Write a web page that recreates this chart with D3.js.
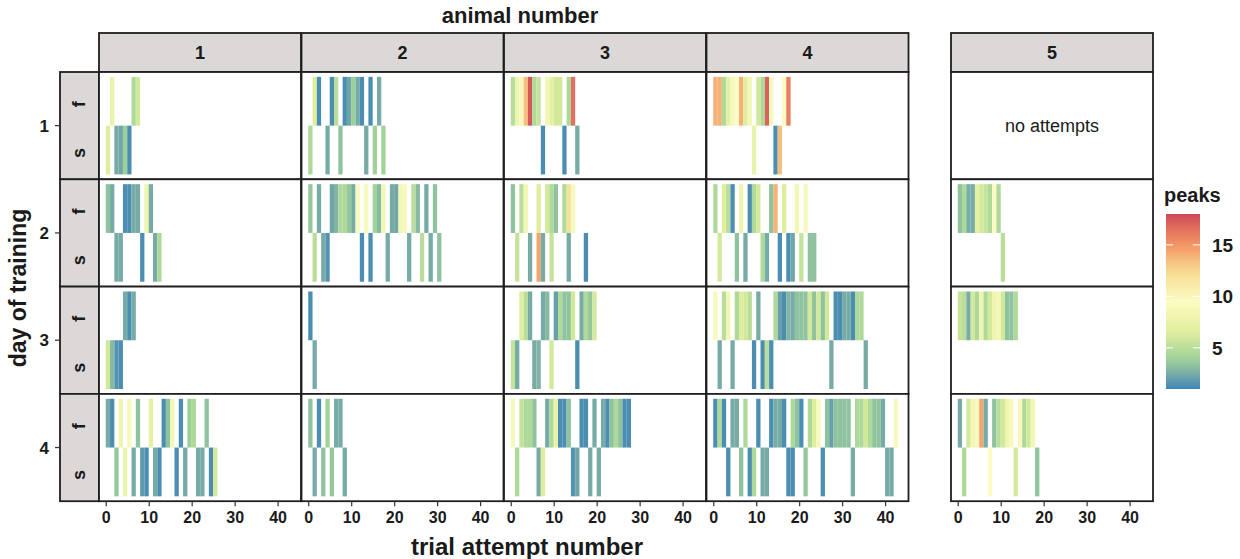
<!DOCTYPE html>
<html>
<head>
<meta charset="utf-8">
<script src="https://cdn.jsdelivr.net/npm/d3@7"></script>
<style>
  body { margin: 0; background: #fff; }
  text { font-family: "Liberation Sans", Arial, sans-serif; }
</style>
</head>
<body>
<svg id="chart" width="1240" height="559"></svg>
<script>
// ---- data ----
const animals = [1, 2, 3, 4, 5];
const days = [1, 2, 3, 4];
const outcomes = ["f", "s"];
const xTicks = [0, 10, 20, 30, 40];
const peakTicks = [5, 10, 15];
const peakRange = [1, 18];
const spectral = ["#3288bd", "#99d594", "#e6f598", "#ffffbf", "#fee08b", "#fc8d59", "#d53e4f"];

// per animal, one entry per day: [trial number, peaks] for failed (f) and successful (s) attempts
const animal1 = [
  { f: [[2, 7.5], [7, 4.5], [8, 6]],
    s: [[1, 6.5], [3, 2.5], [4, 2.3], [5, 3.8], [6, 1.3]] },
  { f: [[1, 3.3], [2, 2.5], [5, 1.3], [6, 1.3], [7, 2.5], [8, 2.5], [10, 8], [11, 2.5]],
    s: [[3, 2.5], [4, 2.5], [9, 1.3], [12, 2.5], [13, 4.5]] },
  { f: [[5, 2.5], [6, 1.3], [7, 2.5]],
    s: [[1, 6], [2, 3], [3, 1.5], [4, 1.3]] },
  { f: [[1, 2.5], [2, 1.3], [4, 8], [6, 9], [8, 3.3], [11, 7], [14, 1.3], [15, 3.3], [16, 8.5], [18, 1.3], [20, 3.8], [21, 4.5], [24, 3.3]],
    s: [[3, 3.5], [5, 7.5], [7, 2.5], [9, 1.8], [10, 1.3], [12, 2.5], [13, 1.3], [17, 1.3], [19, 2.5], [22, 2.5], [23, 2.5], [25, 1.3], [26, 6]] }
];
const animal2 = [
  { f: [[2, 6.5], [3, 1.3], [6, 1.3], [7, 5], [9, 1.3], [10, 2.2], [11, 3.8], [12, 2.5], [13, 1.3], [15, 1.3], [17, 2.5]],
    s: [[1, 4.5], [5, 2.5], [8, 3.3], [14, 2.5], [16, 4], [18, 4]] },
  { f: [[1, 3.5], [3, 2.5], [6, 2.3], [7, 2.8], [8, 4.5], [9, 4.5], [10, 3.5], [11, 2.5], [12, 9], [14, 9], [16, 4], [17, 3], [18, 8.5], [20, 2.5], [21, 2.3], [22, 8.5], [23, 9], [25, 5], [26, 3], [28, 2.5], [30, 3.3]],
    s: [[2, 5], [4, 2.5], [5, 1.5], [13, 1.3], [15, 1.3], [19, 2.5], [24, 2.5], [27, 5], [29, 2.5], [31, 3.3]] },
  { f: [[1, 1.3]],
    s: [[2, 2.5]] },
  { f: [[1, 3.3], [3, 1.3], [5, 4], [7, 2.5], [8, 2.5]],
    s: [[2, 2.5], [4, 3.3], [6, 3.5], [9, 2.5]] }
];
const animal3 = [
  { f: [[1, 5], [2, 8], [3, 9], [4, 13.5], [5, 17.5], [6, 4.5], [7, 5.5], [9, 8.5], [10, 7], [11, 6], [12, 6], [14, 4.5], [15, 16.5]],
    s: [[8, 1.3], [13, 1.3], [16, 2.5]] },
  { f: [[1, 3.3], [3, 5], [4, 8.5], [7, 6.5], [9, 6], [10, 4.5], [11, 3.3], [13, 4.5], [14, 12], [15, 9]],
    s: [[2, 5.5], [5, 2.5], [7, 14.5], [8, 2.5], [10, 5.5], [14, 2.5], [18, 1.3]] },
  { f: [[3, 6.5], [4, 5], [5, 2.5], [8, 2.5], [9, 3], [11, 2], [12, 4.5], [13, 3.3], [14, 3.3], [15, 6], [17, 2.5], [18, 4.5], [19, 3.5], [20, 6]],
    s: [[1, 5.5], [2, 2.5], [6, 2.5], [7, 2.8], [10, 6], [16, 1.3]] },
  { f: [[1, 9], [3, 5.5], [4, 4.5], [5, 4.5], [6, 3.3], [9, 2.5], [10, 4.5], [11, 7.5], [12, 1.3], [13, 1.3], [14, 3.3], [17, 1.3], [18, 1.3], [20, 2.5], [22, 2.5], [23, 1.3], [24, 3.3], [25, 4.5], [26, 3.3], [27, 1.3], [28, 1.3]],
    s: [[2, 4.5], [7, 2.5], [8, 6.5], [15, 1.5], [16, 2.3], [19, 2.5], [21, 2.5]] }
];
const animal4 = [
  { f: [[1, 14], [2, 14], [3, 4.5], [4, 7], [5, 9], [6, 9.5], [7, 14], [8, 6.5], [9, 8.5], [11, 6], [12, 4.5], [13, 17], [14, 9], [17, 9.5], [18, 16]],
    s: [[10, 7.5], [15, 1.3], [16, 13.5]] },
  { f: [[1, 4.5], [3, 6.5], [4, 5], [5, 1.3], [7, 8], [9, 1.3], [10, 4.5], [11, 6], [14, 3.3], [15, 14], [17, 6.5], [20, 8.5], [22, 9]],
    s: [[2, 6], [6, 3.3], [8, 2.5], [12, 4.5], [13, 2.5], [16, 1.3], [18, 1.3], [19, 2.3], [21, 5.5], [23, 3.3], [24, 3.3]] },
  { f: [[1, 9], [3, 5], [4, 8.5], [6, 4.5], [7, 6.5], [8, 6], [9, 5], [11, 2.5], [15, 4.5], [16, 2], [17, 1.3], [18, 2.8], [19, 2.5], [20, 3.3], [21, 3.3], [22, 3.3], [23, 6], [24, 3.3], [25, 6], [26, 3.3], [27, 6], [29, 1.3], [30, 1.3], [31, 2.5], [32, 2.5], [33, 1.3], [34, 4.5], [35, 4.5]],
    s: [[2, 2.5], [5, 2.5], [10, 1.3], [12, 1.3], [13, 5], [14, 1.3], [28, 2.5], [36, 2.5]] },
  { f: [[1, 1.3], [2, 4.5], [3, 1.3], [5, 2.5], [6, 2.5], [8, 4.5], [11, 1.3], [14, 1.3], [15, 2.5], [16, 2.5], [17, 1.3], [19, 4.5], [20, 3.3], [21, 1.3], [23, 4.5], [24, 6.5], [25, 9], [27, 3.3], [28, 2], [29, 3.3], [30, 3.3], [31, 3.3], [32, 3.3], [34, 4.5], [35, 4.5], [36, 6], [37, 4.5], [38, 3.3], [39, 3.3], [40, 2.5], [43, 9]],
    s: [[4, 1.3], [7, 3.3], [9, 1.3], [10, 4.5], [12, 2.5], [13, 2.5], [18, 1.3], [19, 1.3], [22, 3.5], [26, 1.3], [33, 2.5], [41, 2.5], [42, 2.5]] }
];
const animal5 = [
  null,
  { f: [[1, 3.3], [2, 4.5], [3, 2.5], [4, 2.5], [5, 7], [6, 6], [7, 5.5], [8, 4.5], [9, 9.5], [10, 4.5]],
    s: [[11, 5]] },
  { f: [[1, 5.5], [2, 5], [3, 2.5], [4, 6], [5, 4.5], [6, 8], [7, 4.5], [8, 6], [9, 8], [10, 8.5], [11, 6], [12, 3.3], [13, 3.3], [14, 4.5]],
    s: [] },
  { f: [[1, 2.5], [3, 6], [4, 8.5], [5, 9], [6, 14.5], [7, 2.5], [9, 3.3], [10, 5], [11, 6], [12, 8], [13, 9], [15, 9], [16, 4.5], [17, 6], [18, 8.5]],
    s: [[2, 4.5], [8, 9.5], [14, 6], [19, 3.3]] }
];
const animalData = [animal1, animal2, animal3, animal4, animal5];

// ---- layout ----
const svg = d3.select("#chart");
const colX = [99, 301.5, 504, 706.5, 951];
const panelW = 202;
const rowY = [72, 179.3, 286.6, 393.9];
const rowH = 107.3;
const stripTop = 33;
const stripLeft = 60;
const frame = "#1e1e1e";
const stripFill = "#dcd8d8";
const ink = "#1a1a1a";

const x = d3.scaleLinear().domain([-1.57, 45.45]).range([0, panelW]);
const y = d3.scaleLinear().domain([0.4, 2.6]).range([0, rowH]);
const spectralScale = d3.scaleLinear()
  .domain(d3.range(spectral.length).map(i => peakRange[0] + i * (peakRange[1] - peakRange[0]) / (spectral.length - 1)))
  .range(spectral)
  .interpolate(d3.interpolateLab)
  .clamp(true);
// printed figure is a little washed out
function color(v) {
  const c = d3.hsl(spectralScale(v));
  c.s *= 0.88;
  return c.formatHex();
}

// column strips
animals.forEach((a, ci) => {
  const g = svg.append("g").attr("transform", `translate(${colX[ci]},${stripTop})`);
  g.append("rect").attr("width", panelW).attr("height", rowY[0] - stripTop)
    .attr("fill", stripFill).attr("stroke", frame).attr("stroke-width", 1.8);
  g.append("text").attr("x", panelW / 2).attr("y", 26)
    .attr("text-anchor", "middle").attr("font-size", 18).attr("font-weight", "bold")
    .attr("fill", ink).text(a);
});

// row strips and day axis
days.forEach((d, ri) => {
  const g = svg.append("g").attr("transform", `translate(${stripLeft},${rowY[ri]})`);
  g.append("rect").attr("width", colX[0] - stripLeft).attr("height", rowH)
    .attr("fill", stripFill).attr("stroke", frame).attr("stroke-width", 1.8);
  outcomes.forEach((o, oi) => {
    const cy = y(oi + 1) + 3;
    g.append("text")
      .attr("transform", `translate(${(colX[0] - stripLeft) / 2 + 5},${cy}) rotate(-90)`)
      .attr("text-anchor", "middle").attr("font-size", 18).attr("font-weight", "bold")
      .attr("fill", ink).text(o);
  });
  g.append("line").attr("x1", -5).attr("x2", 0).attr("y1", rowH / 2).attr("y2", rowH / 2)
    .attr("stroke", "#333").attr("stroke-width", 1.2);
  g.append("text").attr("x", -11).attr("y", rowH / 2 + 6)
    .attr("text-anchor", "end").attr("font-size", 17).attr("font-weight", "bold")
    .attr("fill", ink).text(d);
});

// panels
animals.forEach((a, ci) => {
  days.forEach((d, ri) => {
    const g = svg.append("g").attr("transform", `translate(${colX[ci]},${rowY[ri]})`);
    g.append("rect").attr("width", panelW).attr("height", rowH).attr("fill", "#fff");
    const entry = animalData[ci][ri];
    if (entry) {
      outcomes.forEach((o, oi) => {
        g.selectAll(`rect.bar-${o}`)
          .data(entry[o])
          .enter()
          .append("rect")
          .attr("class", `bar-${o}`)
          .attr("x", t => x(t[0] - 1))
          .attr("width", t => x(t[0]) - x(t[0] - 1))
          .attr("y", y(oi + 0.5))
          .attr("height", y(oi + 1.5) - y(oi + 0.5))
          .attr("fill", t => color(t[1]));
      });
    } else {
      g.append("text").attr("x", panelW / 2).attr("y", rowH / 2 + 6)
        .attr("text-anchor", "middle").attr("font-size", 18)
        .attr("font-family", "'Open Sans', sans-serif")
        .attr("fill", ink).text("no attempts");
    }
    g.append("rect").attr("width", panelW).attr("height", rowH)
      .attr("fill", "none").attr("stroke", frame).attr("stroke-width", 1.8);
  });
});

// x axes
animals.forEach((a, ci) => {
  const g = svg.append("g").attr("transform", `translate(${colX[ci]},${rowY[3] + rowH})`);
  const axis = d3.axisBottom(x).tickValues(xTicks).tickSize(5).tickPadding(5);
  g.call(axis);
  g.select(".domain").remove();
  g.selectAll(".tick line").attr("stroke", "#333").attr("stroke-width", 1.2);
  g.selectAll(".tick text").attr("font-size", 16).attr("font-weight", "bold")
    .attr("fill", ink).attr("font-family", "Liberation Sans, Arial, sans-serif");
});

// titles
svg.append("text").attr("x", 520).attr("y", 23).attr("text-anchor", "middle")
  .attr("font-size", 22).attr("font-weight", "bold").attr("fill", ink).text("animal number");
svg.append("text").attr("x", 527).attr("y", 555).attr("text-anchor", "middle")
  .attr("font-size", 24).attr("font-weight", "bold").attr("fill", ink).text("trial attempt number");
svg.append("text").attr("transform", "translate(26,288) rotate(-90)").attr("text-anchor", "middle")
  .attr("font-size", 23).attr("font-weight", "bold").attr("fill", ink).text("day of training");

// legend
const legTop = 214, legBottom = 389, legX = 1166, legW = 34;
const legScale = d3.scaleLinear().domain(peakRange).range([legBottom, legTop]);
const defs = svg.append("defs");
const grad = defs.append("linearGradient").attr("id", "peaksGrad")
  .attr("x1", 0).attr("y1", 1).attr("x2", 0).attr("y2", 0);
d3.range(0, 1.0001, 0.05).forEach(t => {
  grad.append("stop").attr("offset", t)
    .attr("stop-color", color(peakRange[0] + t * (peakRange[1] - peakRange[0])));
});
svg.append("rect").attr("x", legX).attr("y", legTop).attr("width", legW)
  .attr("height", legBottom - legTop).attr("fill", "url(#peaksGrad)");
peakTicks.forEach(v => {
  const ty = legScale(v);
  svg.append("line").attr("x1", legX).attr("x2", legX + 7).attr("y1", ty).attr("y2", ty)
    .attr("stroke", "#fff").attr("stroke-width", 1);
  svg.append("line").attr("x1", legX + legW - 7).attr("x2", legX + legW).attr("y1", ty).attr("y2", ty)
    .attr("stroke", "#fff").attr("stroke-width", 1);
  svg.append("text").attr("x", legX + legW + 12).attr("y", ty + 7)
    .attr("font-size", 19).attr("font-weight", "bold").attr("fill", ink).text(v);
});
svg.append("text").attr("x", 1164).attr("y", 202).attr("font-size", 20)
  .attr("font-weight", "bold").attr("fill", ink).text("peaks");
</script>
</body>
</html>
